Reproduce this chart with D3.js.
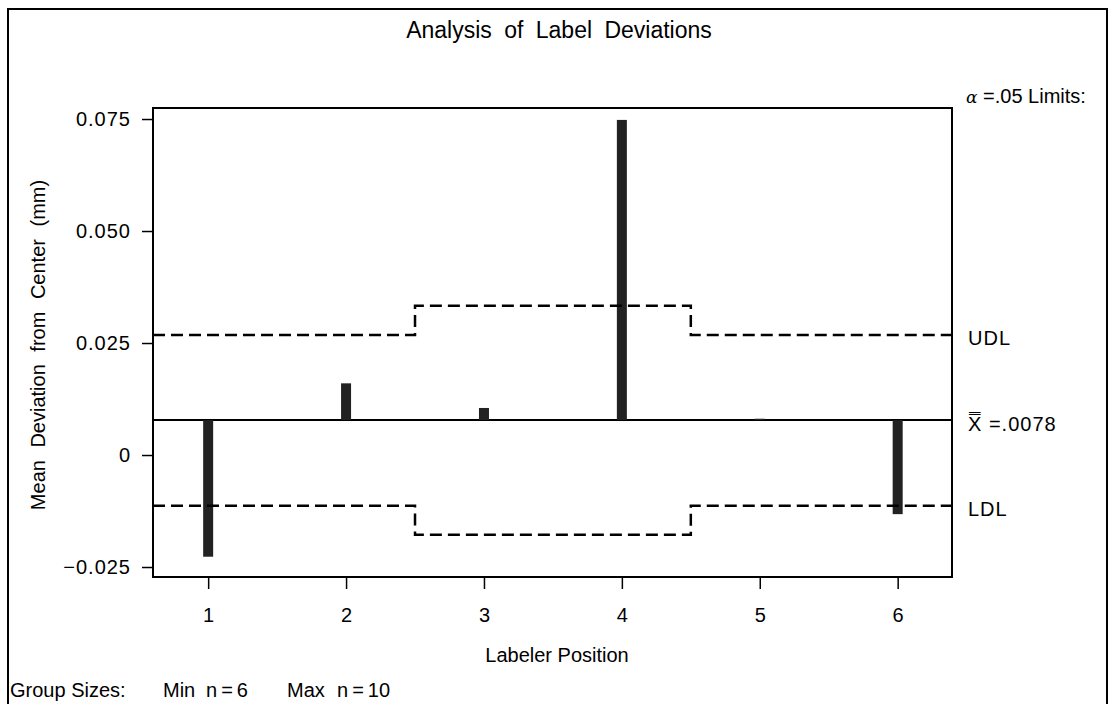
<!DOCTYPE html>
<html>
<head>
<meta charset="utf-8">
<script src="https://cdn.jsdelivr.net/npm/d3@7"></script>
<style>
  body { margin: 0; background: #fff; }
  svg text { font-family: "Liberation Sans", Arial, sans-serif; fill: #000; }
</style>
</head>
<body>
<div class="svg-frame" style="width:1113px;height:704px"></div>
<script>
// data
const positions = [1, 2, 3, 4, 5, 6]
const meanDeviations = [-0.0227, 0.0160, 0.0105, 0.0748, 0.0081, -0.0132]
const centerLine = 0.0078
// limits step at group boundaries: [from, to, UDL, LDL]
const limitSegments = [
  [0.6, 2.5, 0.0268, -0.0113],
  [2.5, 4.5, 0.0333, -0.0178],
  [4.5, 6.4, 0.0268, -0.0113]
]
const yTicks = [-0.025, 0, 0.025, 0.050, 0.075]
const yTickLabels = ["\u22120.025", "0", "0.025", "0.050", "0.075"]

function drawViz() {
  const frameClass = ".svg-frame"
  const frameWidth = parseFloat(d3.select(frameClass).style("width"))
  const frameHeight = parseFloat(d3.select(frameClass).style("height"))
  const svg = d3.select(frameClass)
    .append("svg")
    .attr("width", frameWidth)
    .attr("height", frameHeight)

  const margin = { top: 108, right: 161, bottom: 127, left: 153 }
  const xScale = d3.scaleLinear([0.6, 6.394], [margin.left, frameWidth - margin.right])
  const yScale = d3.scaleLinear([-0.02723, 0.07746], [frameHeight - margin.bottom, margin.top])

  // outer border
  svg.append("rect")
    .attr("x", 8).attr("y", 9)
    .attr("width", 1099).attr("height", 720)
    .attr("fill", "none").attr("stroke", "#000").attr("stroke-width", 2)

  // title
  svg.append("text")
    .attr("x", 559).attr("y", 38)
    .attr("text-anchor", "middle")
    .attr("font-size", 23)
    .attr("word-spacing", 6)
    .text("Analysis of Label Deviations")

  // axes
  const yAxis = d3.axisLeft(yScale)
    .tickValues(yTicks)
    .tickFormat((d, i) => yTickLabels[i])
    .tickSizeOuter(0)
    .tickSize(11)
    .tickPadding(11)
  const gy = svg.append("g")
    .attr("transform", `translate(${margin.left},0)`)
    .call(yAxis)
  gy.select(".domain").remove()
  gy.selectAll("line").attr("stroke-width", 1.5)
  gy.selectAll("text")
    .attr("font-size", 20)
    .attr("letter-spacing", 1)
    .attr("font-family", "Liberation Sans")

  const xAxis = d3.axisBottom(xScale)
    .tickValues(positions)
    .tickFormat(d3.format("d"))
    .tickSizeOuter(0)
    .tickSize(12)
    .tickPadding(19)
  const gx = svg.append("g")
    .attr("transform", `translate(0,${frameHeight - margin.bottom})`)
    .call(xAxis)
  gx.select(".domain").remove()
  gx.selectAll("line").attr("stroke-width", 1.5)
  gx.selectAll("text")
    .attr("font-size", 20)
    .attr("font-family", "Liberation Sans")

  // plot frame
  svg.append("rect")
    .attr("x", xScale(0.6)).attr("y", yScale(0.07746))
    .attr("width", xScale(6.394) - xScale(0.6))
    .attr("height", yScale(-0.02723) - yScale(0.07746))
    .attr("fill", "none").attr("stroke", "#000").attr("stroke-width", 2)

  // axis titles
  svg.append("text")
    .attr("x", 557).attr("y", 662)
    .attr("text-anchor", "middle")
    .attr("font-size", 20)
    .text("Labeler Position")

  svg.append("text")
    .attr("transform", "translate(45,345) rotate(-90)")
    .attr("text-anchor", "middle")
    .attr("font-size", 20)
    .attr("word-spacing", 7)
    .text("Mean Deviation from Center (mm)")

  // center line
  svg.append("line")
    .attr("x1", xScale(0.6)).attr("x2", xScale(6.394))
    .attr("y1", yScale(centerLine)).attr("y2", yScale(centerLine))
    .attr("stroke", "#000").attr("stroke-width", 2)

  // bars from center line
  svg.selectAll("rect.bar")
    .data(meanDeviations)
    .join("rect")
      .attr("class", "bar")
      .attr("x", (d, i) => xScale(positions[i]) - 5)
      .attr("width", 10)
      .attr("y", d => yScale(Math.max(d, centerLine)))
      .attr("height", d => Math.abs(yScale(d) - yScale(centerLine)))
      .attr("fill", "#222")

  // decision limits as step lines
  const stepPoints = key => {
    const pts = []
    limitSegments.forEach(s => {
      pts.push([s[0], s[key]])
      pts.push([s[1], s[key]])
    })
    return pts
  }
  const line = d3.line().x(d => xScale(d[0])).y(d => yScale(d[1]))
  ;[2, 3].forEach(k => {
    svg.append("path")
      .attr("d", line(stepPoints(k)))
      .attr("fill", "none")
      .attr("stroke", "#000")
      .attr("stroke-width", 2.5)
      .attr("stroke-dasharray", "12,6")
  })

  // right-hand labels
  const rx = 968
  const rightLabel = (y, txt) => svg.append("text")
    .attr("x", rx).attr("y", y)
    .attr("font-size", 20)
    .attr("letter-spacing", 1)
    .text(txt)
  svg.append("text")
    .attr("x", rx - 2).attr("y", 103)
    .attr("font-size", 20)
    .html('<tspan font-style="italic" font-family="DejaVu Serif" font-size="17">\u03b1</tspan> =.05 Limits:')
  rightLabel(yScale(0.0268) + 10, "UDL")
  rightLabel(yScale(centerLine) + 11, "X\u033F =.0078")
  rightLabel(yScale(-0.0113) + 10, "LDL")

  // footnote
  const foot = svg.append("text")
    .attr("y", 697)
    .attr("font-size", 20)
  ;[[10, "Group Sizes:"], [163, "Min"], [206, "n\u2009=\u20096"], [287, "Max"], [337, "n\u2009=\u200910"]]
    .forEach(p => foot.append("tspan").attr("x", p[0]).text(p[1]))
}

drawViz()
</script>
</body>
</html>
